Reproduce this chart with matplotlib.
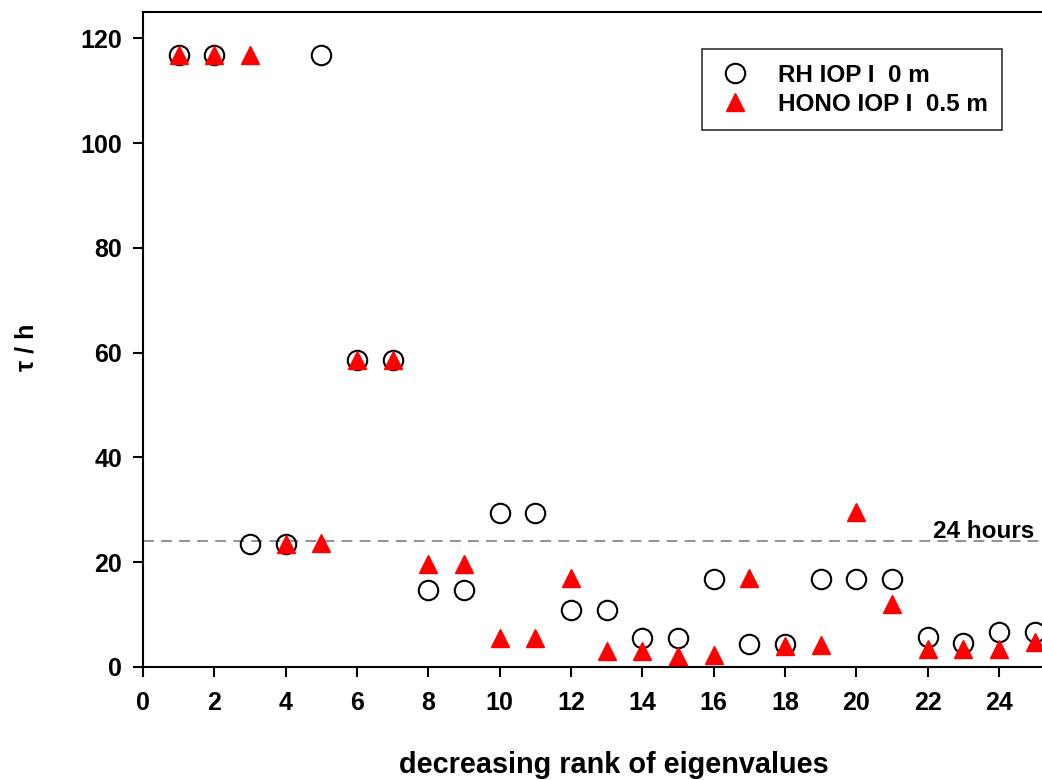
# time constants vs rank of eigenvalues
import numpy as np
import matplotlib.pyplot as plt

plt.rcParams['font.family'] = ['Liberation Sans', 'DejaVu Sans']
plt.rcParams['font.weight'] = 'bold'

# data
rank = np.arange(1, 26)
rh_tau = [116.8, 116.8, 23.5, 23.5, 116.8, 58.6, 58.6, 14.7, 14.7, 29.4,
          29.4, 10.9, 10.9, 5.6, 5.6, 16.8, 4.3, 4.3, 16.8, 16.8,
          16.8, 5.8, 4.5, 6.6, 6.6]
hono_tau = [116.8, 116.8, 116.8, 23.5, 23.7, 58.6, 58.6, 19.7, 19.7, 5.6,
            5.6, 17.0, 3.05, 3.05, 2.1, 2.2, 17.0, 4.0, 4.1, 29.5,
            12.0, 3.4, 3.4, 3.4, 4.7]
ref_hours = 24
x_ticks = np.arange(0, 26, 2)
y_ticks = np.arange(0, 121, 20)

fig = plt.figure(figsize=(10.42, 7.8), dpi=100)
# axes runs past the right edge, as in the original
ax = fig.add_axes([0.1372, 0.1449, 0.890, 0.8397])

ax.axhline(ref_hours, color='#888888', lw=1.3, ls=(0, (6, 4)), zorder=1)
ax.plot(rank, rh_tau, 'o', ms=14, mfc='none', mec='black', mew=1.5,
        label='RH IOP I  0 m', clip_on=False, zorder=3)
ax.plot(rank, hono_tau, '^', ms=12.5, color='red', mec='red',
        label='HONO IOP I  0.5 m', clip_on=False, zorder=4)
ax.text(25.0, ref_hours - 0.3, '24 hours', ha='right', va='bottom',
        fontsize=17.5, fontweight='bold')

ax.set_xlim(0, 26)
ax.set_ylim(0, 125)
ax.set_xticks(x_ticks)
ax.set_yticks(y_ticks)
ax.tick_params(direction='out', length=7, width=1.5, labelsize=18)
ax.tick_params(axis='x', pad=10)
ax.tick_params(axis='y', pad=8)
for lab in ax.get_xticklabels() + ax.get_yticklabels():
    lab.set_fontweight('bold')
for s in ax.spines.values():
    s.set_linewidth(1.5)
ax.spines['right'].set_visible(False)

ax.set_xlabel('decreasing rank of eigenvalues', fontsize=20.8, fontweight='bold')
ax.set_ylabel('τ / h', fontsize=18, fontweight='bold')
ax.xaxis.label.set_va('center')
ax.yaxis.label.set_va('center')
ax.xaxis.set_label_coords(0.508, -0.1496)
ax.yaxis.set_label_coords(-0.126, 0.488)

leg = ax.legend(loc='upper left', bbox_to_anchor=(0.590, 0.962), fontsize=17.5,
                frameon=True, fancybox=False, edgecolor='black', handletextpad=1.0,
                borderpad=0.6, labelspacing=0.25, handlelength=1.5)
leg.get_frame().set_linewidth(1.2)
for t in leg.get_texts():
    t.set_fontweight('bold')

fig.savefig('out.png', dpi=100)
